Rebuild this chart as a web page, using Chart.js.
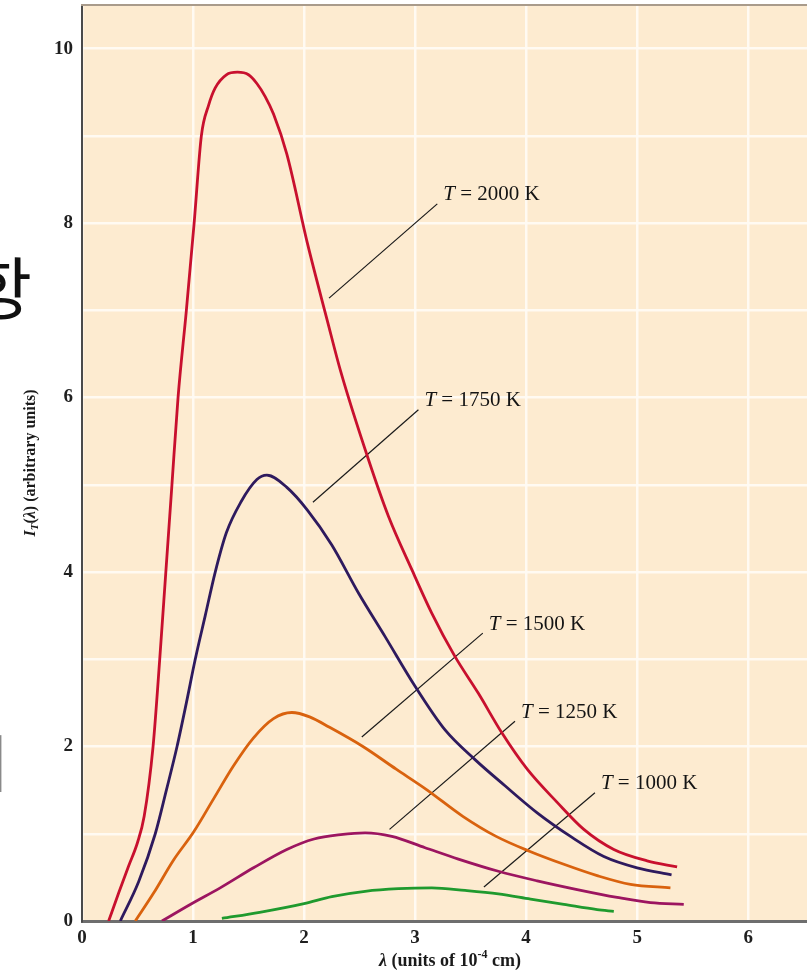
<!DOCTYPE html>
<html>
<head>
<meta charset="utf-8">
<script src="https://cdn.jsdelivr.net/npm/chart.js@4.4.1/dist/chart.umd.min.js"></script>
<style>
  html, body { margin: 0; padding: 0; background: #ffffff; overflow: hidden; }
  #wrap { position: relative; width: 807px; height: 972px; }
</style>
</head>
<body>
<div id="wrap"><canvas id="c" width="807" height="972"></canvas></div>
<script>
// Blackbody spectral intensity curves, wavelength in units of 1e-4 cm.
const lambda2000 = [0.24, 0.33, 0.42, 0.50, 0.56, 0.64, 0.70, 0.755, 0.81, 0.865, 0.94, 1.01, 1.075, 1.14, 1.2, 1.3, 1.4, 1.5, 1.575, 1.65, 1.725, 1.845, 2.03, 2.21, 2.33, 2.58, 2.76, 2.97, 3.15, 3.36, 3.57, 3.78, 4.01, 4.28, 4.52, 4.79, 5.09, 5.36];
const intensity2000 = [0, 0.32, 0.63, 0.9, 1.2, 2.0, 3.0, 4.0, 5.0, 6.0, 7.0, 8.0, 9.0, 9.35, 9.55, 9.7, 9.73, 9.7, 9.6, 9.45, 9.25, 8.79, 7.77, 6.88, 6.3, 5.29, 4.64, 4.03, 3.53, 3.03, 2.61, 2.16, 1.74, 1.36, 1.05, 0.82, 0.69, 0.62];

const lambda1750 = [0.345, 0.51, 0.66, 0.76, 0.856, 0.94, 1.02, 1.11, 1.2, 1.3, 1.43, 1.575, 1.665, 1.845, 2.03, 2.25, 2.49, 2.73, 3.0, 3.27, 3.54, 3.81, 4.1, 4.4, 4.7, 5.0, 5.31];
const intensity1750 = [0, 0.45, 1.0, 1.5, 2.0, 2.5, 3.0, 3.5, 4.0, 4.45, 4.8, 5.06, 5.11, 4.97, 4.71, 4.31, 3.76, 3.26, 2.69, 2.19, 1.85, 1.55, 1.24, 0.97, 0.74, 0.61, 0.53];

const lambda1500 = [0.48, 0.645, 0.825, 1.005, 1.185, 1.365, 1.545, 1.725, 1.89, 2.05, 2.23, 2.53, 2.83, 3.1, 3.43, 3.73, 4.03, 4.34, 4.64, 4.94, 5.3];
const intensity1500 = [0, 0.32, 0.70, 1.02, 1.40, 1.78, 2.10, 2.32, 2.39, 2.34, 2.22, 2.0, 1.74, 1.51, 1.2, 0.97, 0.80, 0.65, 0.52, 0.42, 0.38];

const lambda1250 = [0.72, 0.975, 1.245, 1.545, 1.845, 2.09, 2.33, 2.55, 2.79, 3.09, 3.39, 3.75, 4.1, 4.46, 4.82, 5.12, 5.42];
const intensity1250 = [0, 0.19, 0.38, 0.61, 0.82, 0.94, 0.99, 1.01, 0.97, 0.84, 0.71, 0.57, 0.46, 0.36, 0.27, 0.21, 0.19];

const lambda1000 = [1.26, 1.6, 2.0, 2.25, 2.55, 2.85, 3.15, 3.45, 3.75, 4.04, 4.34, 4.64, 4.79];
const intensity1000 = [0.03, 0.1, 0.2, 0.28, 0.34, 0.37, 0.38, 0.35, 0.31, 0.25, 0.19, 0.13, 0.11];

const temperatures = ['2000', '1750', '1500', '1250', '1000'];
const xTickValues = [0, 1, 2, 3, 4, 5, 6];
const yTickValues = [0, 2, 4, 6, 8, 10];

// Leader lines from each curve to its temperature label (data units).
const leaderStartX = [2.225, 2.08, 2.52, 2.77, 3.62];
const leaderStartY = [7.14, 4.80, 2.11, 1.05, 0.39];
const leaderEndX   = [3.20, 3.03, 3.61, 3.90, 4.62];
const leaderEndY   = [8.22, 5.86, 3.30, 2.29, 1.47];

const curveColors = ['#c8102e', '#2e1a5e', '#d9620e', '#9c1560', '#1f9a2e'];

function pts(xs, ys) { return xs.map((x, i) => ({ x: x, y: ys[i] })); }

const curves = [
  pts(lambda2000, intensity2000),
  pts(lambda1750, intensity1750),
  pts(lambda1500, intensity1500),
  pts(lambda1250, intensity1250),
  pts(lambda1000, intensity1000)
];

const datasets = curves.map((d, i) => ({
  data: d,
  borderColor: curveColors[i],
  borderWidth: 2.8,
  pointRadius: 0,
  showLine: true,
  cubicInterpolationMode: 'monotone',
  fill: false
}));

temperatures.forEach((t, i) => {
  datasets.push({
    data: [{ x: leaderStartX[i], y: leaderStartY[i] }, { x: leaderEndX[i], y: leaderEndY[i] }],
    borderColor: '#1a1a1a',
    borderWidth: 1.2,
    pointRadius: 0,
    showLine: true,
    tension: 0
  });
});

const SERIF = '"Liberation Serif", "DejaVu Serif", serif';

const plotBackground = {
  id: 'plotBackground',
  beforeDraw(chart) {
    const { ctx, chartArea: a } = chart;
    ctx.save();
    ctx.fillStyle = '#ffffff';
    ctx.fillRect(0, 0, chart.width, chart.height);
    ctx.fillStyle = '#fdebd0';
    ctx.fillRect(a.left, a.top, a.right - a.left, a.bottom - a.top);
    ctx.restore();
  }
};

const temperatureLabels = {
  id: 'temperatureLabels',
  afterDatasetsDraw(chart) {
    const { ctx, scales: { x, y } } = chart;
    ctx.save();
    ctx.fillStyle = '#141414';
    ctx.textBaseline = 'middle';
    ctx.textAlign = 'left';
    temperatures.forEach((t, i) => {
      const px = x.getPixelForValue(leaderEndX[i]) + 6;
      const py = y.getPixelForValue(leaderEndY[i]) - 9;
      ctx.font = 'italic 21px ' + SERIF;
      ctx.fillText('T', px, py);
      const w = ctx.measureText('T').width;
      ctx.font = '21px ' + SERIF;
      ctx.fillText(' = ' + t + ' K', px + w, py);
    });
    ctx.restore();
  }
};

const axisDecor = {
  id: 'axisDecor',
  afterDraw(chart) {
    const { ctx, chartArea: a } = chart;
    ctx.save();
    // frame line along the top of the plot
    ctx.strokeStyle = '#a99b8b';
    ctx.lineWidth = 2;
    ctx.beginPath();
    ctx.moveTo(a.left - 1, a.top);
    ctx.lineTo(a.right, a.top);
    ctx.stroke();

    ctx.fillStyle = '#1a1a1a';
    ctx.textBaseline = 'middle';
    ctx.textAlign = 'left';

    // x axis title: λ (units of 10^-4 cm)
    const xParts = [
      { t: 'λ', f: 'italic bold 18px ' + SERIF, dy: 0 },
      { t: ' (units of 10', f: 'bold 18px ' + SERIF, dy: 0 },
      { t: '-4', f: 'bold 12px ' + SERIF, dy: -6 },
      { t: ' cm)', f: 'bold 18px ' + SERIF, dy: 0 }
    ];
    let total = 0;
    xParts.forEach(p => { ctx.font = p.f; p.w = ctx.measureText(p.t).width; total += p.w; });
    let cx = 450 - total / 2;
    xParts.forEach(p => { ctx.font = p.f; ctx.fillText(p.t, cx, 961 + p.dy); cx += p.w; });

    // y axis title: I_T(λ) (arbitrary units)
    const yParts = [
      { t: 'I', f: 'italic bold 16px ' + SERIF, dy: 0 },
      { t: 'T', f: 'italic bold 11px ' + SERIF, dy: 4 },
      { t: '(', f: 'bold 16px ' + SERIF, dy: 0 },
      { t: 'λ', f: 'italic bold 16px ' + SERIF, dy: 0 },
      { t: ') (arbitrary units)', f: 'bold 16px ' + SERIF, dy: 0 }
    ];
    total = 0;
    yParts.forEach(p => { ctx.font = p.f; p.w = ctx.measureText(p.t).width; total += p.w; });
    ctx.translate(31, 463);
    ctx.rotate(-Math.PI / 2);
    cx = -total / 2;
    yParts.forEach(p => { ctx.font = p.f; ctx.fillText(p.t, cx, p.dy); cx += p.w; });
    ctx.setTransform(1, 0, 0, 1, 0, 0);

    // Hangul text running off the left edge of the page
    const cjk = '"Noto Sans CJK KR", sans-serif';
    ctx.textBaseline = 'alphabetic';
    ctx.font = '100px ' + cjk;
    let m = ctx.measureText('항');
    let size = 100 * 63 / (m.actualBoundingBoxAscent + m.actualBoundingBoxDescent);
    ctx.font = size + 'px ' + cjk;
    m = ctx.measureText('항');
    ctx.fillStyle = '#111111';
    ctx.fillText('항', 30 - m.actualBoundingBoxRight, 320 - m.actualBoundingBoxDescent);

    ctx.font = '100px ' + cjk;
    m = ctx.measureText('ㅣ');
    size = 100 * 57 / (m.actualBoundingBoxAscent + m.actualBoundingBoxDescent);
    ctx.font = size + 'px ' + cjk;
    m = ctx.measureText('ㅣ');
    ctx.fillStyle = '#8a8a8a';
    ctx.fillText('ㅣ', 2 - m.actualBoundingBoxRight, 735 + m.actualBoundingBoxAscent);
    ctx.restore();
  }
};

const gridColor = 'rgba(255, 251, 243, 0.95)';

new Chart(document.getElementById('c'), {
  type: 'scatter',
  data: { datasets: datasets },
  plugins: [plotBackground, temperatureLabels, axisDecor],
  options: {
    responsive: false,
    animation: false,
    devicePixelRatio: 1,
    layout: { padding: { top: 5, right: 0, bottom: 0, left: 0 } },
    plugins: { legend: { display: false }, tooltip: { enabled: false } },
    scales: {
      x: {
        type: 'linear',
        min: 0,
        max: 6.53,
        afterFit(s) { s.height = 51; s.paddingLeft = 0; s.paddingRight = 0; },
        afterBuildTicks(s) { s.ticks = xTickValues.map(v => ({ value: v })); },
        ticks: {
          padding: 6,
          color: '#1f1f1f',
          font: { family: SERIF, size: 19, weight: 'bold' },
          callback: v => String(v)
        },
        grid: { color: gridColor, lineWidth: 2.5, drawTicks: false },
        border: { color: '#6e6e6e', width: 3 }
      },
      y: {
        type: 'linear',
        min: 0,
        max: 10.5,
        afterFit(s) { s.width = 82; s.paddingTop = 0; s.paddingBottom = 0; },
        afterBuildTicks(s) {
          const t = [];
          for (let v = 0; v <= 10; v++) t.push({ value: v });
          s.ticks = t;
        },
        ticks: {
          padding: 9,
          color: '#1f1f1f',
          font: { family: SERIF, size: 19, weight: 'bold' },
          callback: v => (yTickValues.indexOf(v) >= 0 ? String(v) : '')
        },
        grid: { color: gridColor, lineWidth: 2.5, drawTicks: false },
        border: { color: '#4a4a4a', width: 2 }
      }
    }
  }
});
</script>
</body>
</html>
